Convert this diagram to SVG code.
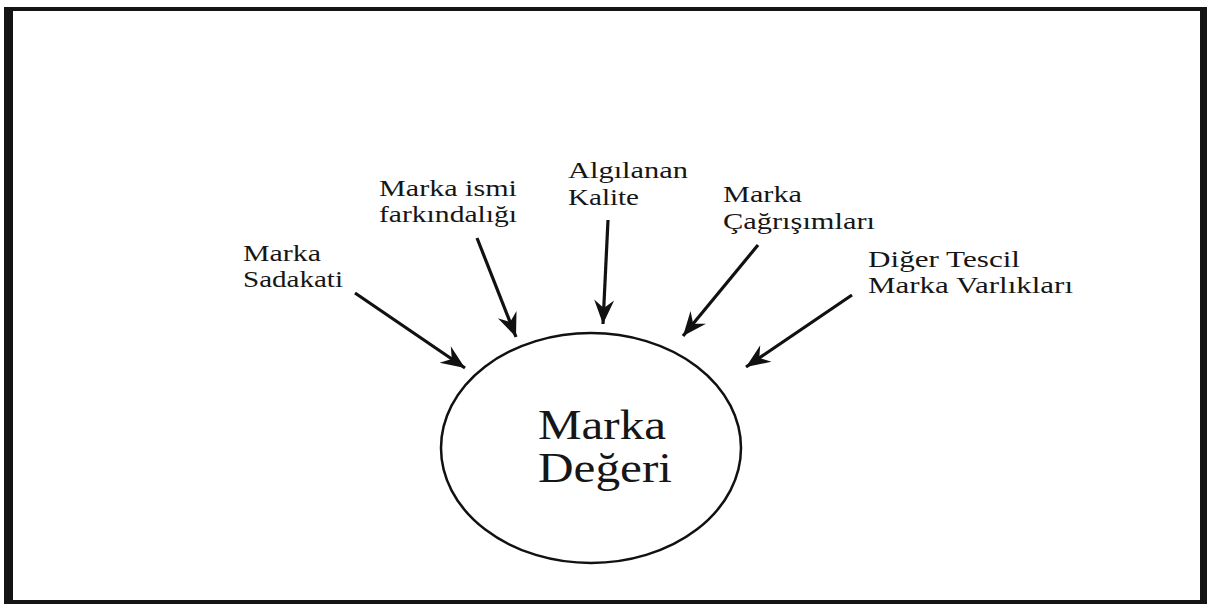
<svg xmlns="http://www.w3.org/2000/svg" width="1207" height="604" viewBox="0 0 1207 604">
  <style>
    .lbl { font-family: "Liberation Serif", "Times New Roman", serif; font-size: 23px; fill: #161616; }
    .core { font-family: "Liberation Serif", "Times New Roman", serif; font-size: 42px; fill: #161616; }
    .conn { stroke: #111; stroke-width: 3.2; fill: none; marker-end: url(#barb); }
  </style>
  <defs>
    <marker id="barb" markerUnits="userSpaceOnUse" markerWidth="28" markerHeight="22" viewBox="-26 -11 28 22" refX="0" refY="0" orient="auto">
      <path d="M0,0 L-24,-10 L-16,0 L-24,10 Z" fill="#111"/>
    </marker>
  </defs>

  <rect x="0" y="0" width="1207" height="604" fill="#ffffff"/>
  <!-- outer frame -->
  <path d="M4,7 H1207 V604 H4 Z M13,11 V600 H1200 V11 Z" fill="#141414" fill-rule="evenodd"/>

  <g id="connectors">
    <line class="conn" x1="355" y1="293" x2="465" y2="368"/>
    <line class="conn" x1="477" y1="238" x2="516" y2="337"/>
    <line class="conn" x1="608" y1="220" x2="603" y2="324"/>
    <line class="conn" x1="758" y1="245" x2="683" y2="336"/>
    <line class="conn" x1="852" y1="295" x2="746" y2="367"/>
  </g>

  <g id="marka-degeri">
    <ellipse cx="591" cy="448" rx="150" ry="115" fill="none" stroke="#111" stroke-width="2.5"/>
    <text class="core" x="538" y="439" textLength="128" lengthAdjust="spacingAndGlyphs">Marka</text>
    <text class="core" x="538" y="482" textLength="134" lengthAdjust="spacingAndGlyphs">Değeri</text>
  </g>

  <g id="marka-sadakati">
    <text class="lbl" x="243" y="261" textLength="78" lengthAdjust="spacingAndGlyphs">Marka</text>
    <text class="lbl" x="243" y="287" textLength="100" lengthAdjust="spacingAndGlyphs">Sadakati</text>
  </g>

  <g id="marka-ismi">
    <text class="lbl" x="379" y="196" textLength="138" lengthAdjust="spacingAndGlyphs">Marka ismi</text>
    <text class="lbl" x="379" y="222" textLength="138" lengthAdjust="spacingAndGlyphs">farkındalığı</text>
  </g>

  <g id="algilanan-kalite">
    <text class="lbl" x="568" y="178" textLength="120" lengthAdjust="spacingAndGlyphs">Algılanan</text>
    <text class="lbl" x="568" y="205" textLength="71" lengthAdjust="spacingAndGlyphs">Kalite</text>
  </g>

  <g id="marka-cagrisimlari">
    <text class="lbl" x="723" y="202" textLength="79" lengthAdjust="spacingAndGlyphs">Marka</text>
    <text class="lbl" x="723" y="229" textLength="152" lengthAdjust="spacingAndGlyphs">Çağrışımları</text>
  </g>

  <g id="diger-varliklar">
    <text class="lbl" x="868" y="267" textLength="152" lengthAdjust="spacingAndGlyphs">Diğer Tescil</text>
    <text class="lbl" x="868" y="293" textLength="205" lengthAdjust="spacingAndGlyphs">Marka Varlıkları</text>
  </g>
</svg>
